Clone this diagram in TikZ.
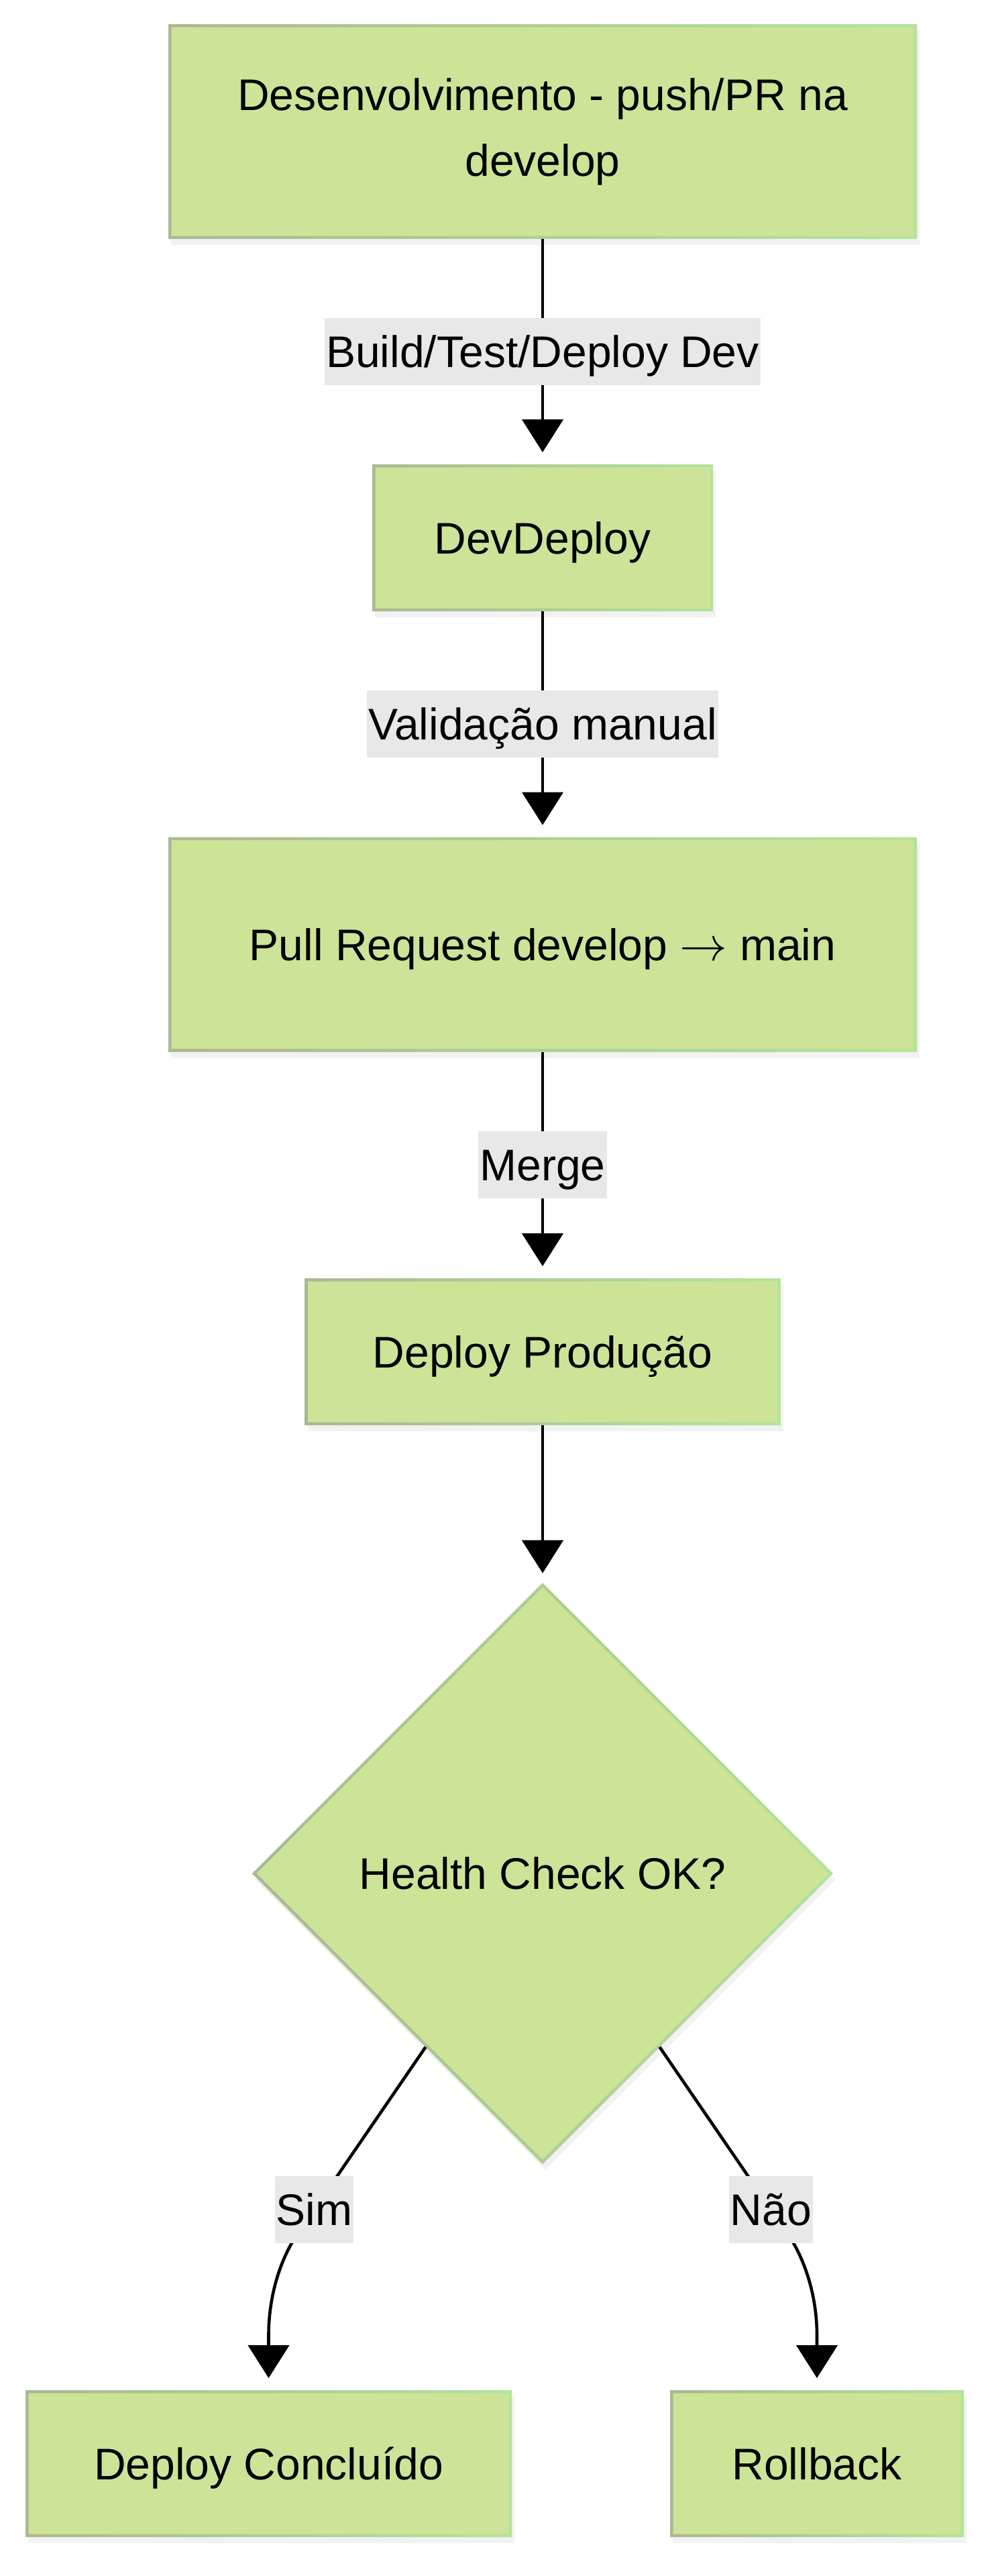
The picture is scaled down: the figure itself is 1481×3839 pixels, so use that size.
\documentclass[tikz,border=0pt]{standalone}
\usepackage{graphicx}
\usepackage{fontspec}
\setmainfont{Liberation Sans}
\usetikzlibrary{arrows.meta,shapes.geometric,shadows,calc}
\definecolor{boxfill}{HTML}{CDE498}
\definecolor{rimleft}{HTML}{ABB892}
\definecolor{rimright}{HTML}{B2E49B}
\definecolor{lblgray}{HTML}{E8E8E8}
\begin{document}
\begin{tikzpicture}[x=1pt,y=-1pt]
        \tikzstyle{stage}=[rectangle,fill=boxfill,inner sep=0pt,outer sep=0pt,minimum height=219pt,drop shadow={opacity=.1,shadow xshift=4pt,shadow yshift=-9pt}]
        \tikzstyle{oneline}=[text height=47.3pt,text depth=0pt]
        \tikzstyle{check}=[diamond,aspect=1,fill=boxfill,inner sep=0pt,outer sep=0pt,minimum width=866pt,minimum height=866pt,drop shadow={opacity=.1,shadow xshift=4pt,shadow yshift=-9pt}]
        \tikzstyle{elabel}=[fill=lblgray,inner xsep=2pt,inner ysep=0pt,minimum height=100pt,text height=47.3pt,text depth=0pt]
        \tikzstyle{edge}=[draw,line width=4.6pt,-{Triangle[width=61pt,length=49pt]},shorten >=18pt]
        \tikzstyle{rim}=[left color=rimleft,right color=rimright,even odd rule]
        \useasboundingbox (0,0) rectangle (1481,3839);
        \begin{scope}[every node/.style={font=\fontsize{66}{98}\selectfont}]
            \node [stage,minimum width=1116pt,minimum height=320pt,align=center] (dev) at (809,196) {Desenvolvimento - push/PR na\\develop};
            \node [stage,oneline,minimum width=508pt] (devdeploy) at (809,801.5) {DevDeploy};
            \node [stage,oneline,minimum width=1116pt,minimum height=320pt] (pr) at (809,1407.5) {Pull Request develop \scalebox{2.85}{$\rightarrow$} main};
            \node [stage,oneline,minimum width=709pt] (prod) at (809,2014.5) {Deploy Produção};
            \node [check,oneline] (health) at (809,2792) {Health Check OK?};
            \node [stage,oneline,minimum width=725pt] (done) at (400.5,3671.5) {Deploy Concluído};
            \node [stage,oneline,minimum width=438pt] (rollback) at (1218,3671.5) {Rollback};
            % borders fade from grey-green to light green
            \foreach \n in {dev,devdeploy,pr,prod,done,rollback}
                \shade[rim] (\n.north west) rectangle (\n.south east) ($(\n.north west)+(4.5,4.5)$) rectangle ($(\n.south east)+(-4.5,-4.5)$);
            \shade[rim] (health.north) -- (health.east) -- (health.south) -- (health.west) -- cycle
                ($(health.north)+(0,6.4)$) -- ($(health.east)+(-6.4,0)$) -- ($(health.south)+(0,-6.4)$) -- ($(health.west)+(6.4,0)$) -- cycle;
            \path[edge] (dev) edge node[elabel,midway] {Build/Test/Deploy Dev} (devdeploy);
            \path[edge] (devdeploy) edge node[elabel,midway] {Validação manual} (pr);
            \path[edge] (pr) edge node[elabel,midway] {Merge} (prod);
            \path[edge] (prod) edge [shorten >=14.5pt] (health);
            \draw[edge] (health.236) -- node[elabel,pos=.867] {Sim} (443,3330) .. controls (419,3365) and (400.5,3420) .. (400.5,3480) -- (done);
            \draw[edge] (health.304) -- node[elabel,pos=.867] {Não} (1175,3330) .. controls (1199,3365) and (1218,3420) .. (1218,3480) -- (rollback);
        \end{scope}
\end{tikzpicture}
\end{document}
